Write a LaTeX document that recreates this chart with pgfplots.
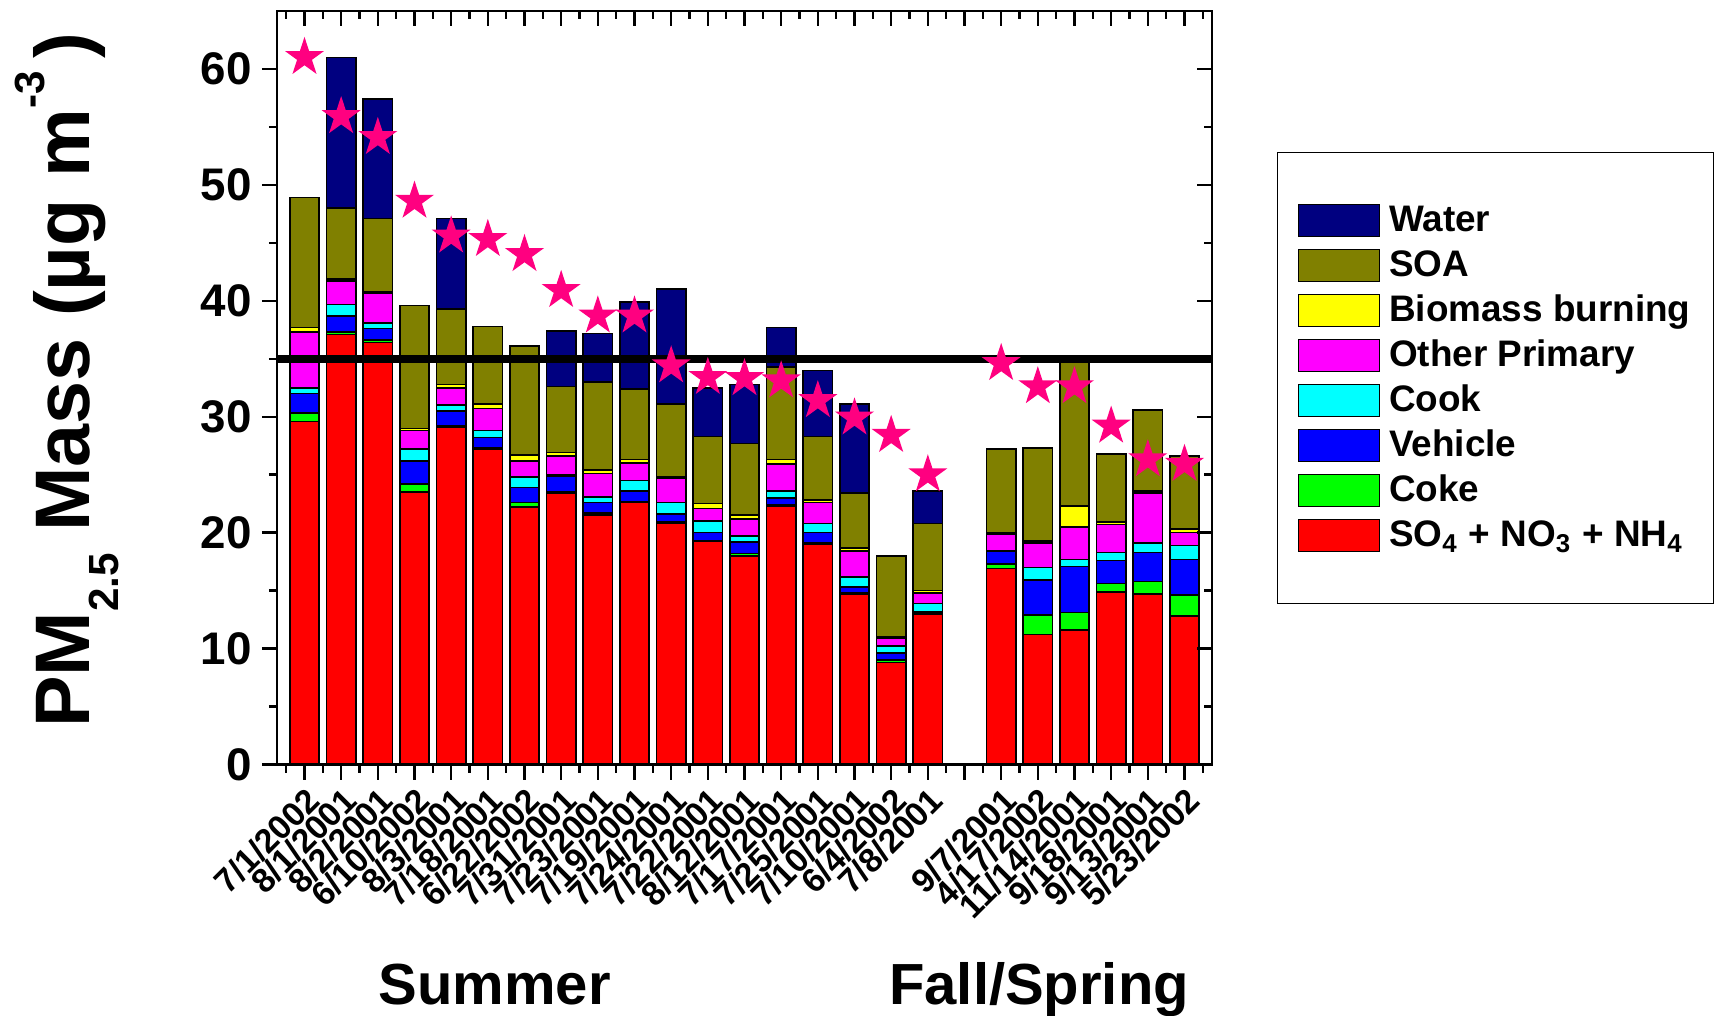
\documentclass[border=0pt]{standalone}
\usepackage{pgfplots}
\pgfplotsset{compat=1.18}
\usepackage{pgfplotstable}
\usepackage{fontspec}
\setmainfont{Liberation Sans}

\definecolor{cwater}{RGB}{0,0,128}
\definecolor{csoa}{RGB}{128,128,0}
\definecolor{cbio}{RGB}{255,255,0}
\definecolor{cother}{RGB}{255,0,255}
\definecolor{ccook}{RGB}{0,255,255}
\definecolor{cveh}{RGB}{0,0,255}
\definecolor{ccoke}{RGB}{0,255,0}
\definecolor{cso}{RGB}{255,0,0}
\definecolor{cstar}{RGB}{255,0,128}

\pgfdeclareplotmark{fstar}{%
\pgfpathmoveto{\pgfpointpolar{90}{\pgfplotmarksize}}%
\pgfpathlineto{\pgfpointpolar{126}{0.382\pgfplotmarksize}}%
\pgfpathlineto{\pgfpointpolar{162}{\pgfplotmarksize}}%
\pgfpathlineto{\pgfpointpolar{198}{0.382\pgfplotmarksize}}%
\pgfpathlineto{\pgfpointpolar{234}{\pgfplotmarksize}}%
\pgfpathlineto{\pgfpointpolar{270}{0.382\pgfplotmarksize}}%
\pgfpathlineto{\pgfpointpolar{306}{\pgfplotmarksize}}%
\pgfpathlineto{\pgfpointpolar{342}{0.382\pgfplotmarksize}}%
\pgfpathlineto{\pgfpointpolar{18}{\pgfplotmarksize}}%
\pgfpathlineto{\pgfpointpolar{54}{0.382\pgfplotmarksize}}%
\pgfpathclose
\pgfusepathqfill}

\pgfplotstableread{
x  so4  coke veh  cook other bio  soa  water
0  29.6 0.7  1.7  0.5  4.8   0.4  11.2 0
1  37.1 0.2  1.4  1.0  2.0   0.2  6.1  13.0
2  36.4 0.2  1.0  0.5  2.6   0.1  6.3  10.3
3  23.5 0.7  2.0  1.0  1.6   0.2  10.6 0
4  29.1 0.1  1.3  0.5  1.5   0.3  6.5  7.8
5  27.2 0.1  0.9  0.6  1.9   0.4  6.7  0
6  22.2 0.4  1.3  0.9  1.4   0.5  9.4  0
7  23.4 0.1  1.4  0.1  1.6   0.3  5.7  4.8
8  21.5 0.2  0.9  0.5  2.0   0.3  7.6  4.2
9  22.6 0.1  0.9  0.9  1.5   0.3  6.1  7.5
10 20.8 0.1  0.7  1.0  2.1   0.1  6.3  9.9
11 19.3 0.0  0.7  1.0  1.1   0.4  5.8  4.2
12 18.0 0.2  1.0  0.5  1.5   0.3  6.2  5.1
13 22.3 0.1  0.6  0.6  2.3   0.4  8.0  3.4
14 19.0 0.1  0.9  0.8  1.8   0.2  5.5  5.7
15 14.7 0.1  0.5  0.9  2.2   0.3  4.7  7.7
16 8.8  0.2  0.6  0.6  0.7   0.1  7.0  0
17 13.0 0.05 0.15 0.7  0.9   0.2  5.8  2.8
19 16.9 0.4  1.1  0.0  1.5   0.1  7.2  0
20 11.2 1.7  3.0  1.1  2.1   0.2  8.0  0
21 11.6 1.5  4.0  0.6  2.8   1.8  12.5 0
22 14.9 0.7  2.0  0.7  2.4   0.2  5.9  0
23 14.7 1.1  2.5  0.8  4.3   0.2  7.0  0
24 12.8 1.8  3.1  1.2  1.1   0.3  6.3  0
}\datatab

\pgfplotstableread{
x  star
0  61.0
1  55.9
2  54.1
3  48.6
4  45.6
5  45.3
6  44.0
7  40.9
8  38.7
9  38.7
10 34.4
11 33.4
12 33.3
13 33.1
14 31.4
15 29.9
16 28.4
17 25.0
19 34.6
20 32.6
21 32.6
22 29.2
23 26.3
24 25.9
}\startab

\pgfplotsset{
  common/.style={
    scale only axis, width=93.5mm, height=75.35mm,
    xmin=-0.75, xmax=24.75, ymin=0, ymax=65,
    xtick={0,...,24}, minor xtick={-0.5,0.5,...,24.5},
    ytick={0,10,...,60}, minor ytick={5,15,...,55},
    major tick length=1.5mm, minor tick length=0.8mm,
    axis line style={line width=0.7pt},
    tick style={line width=0.7pt, black},
  },
  mylegend/.style={legend image code/.code={\draw[##1, line width=0.4pt] (0mm,-1.6mm) rectangle (8.1mm,1.6mm);}},
}

\begin{document}
\begin{tikzpicture}
\useasboundingbox (-27.7mm,-25.05mm) rectangle (143.8mm,76.45mm);
\begin{axis}[common,
  ybar stacked, bar width=0.8,
  tick align=outside, xtick pos=left, ytick pos=left,
  xticklabels={7/1/2002,8/1/2001,8/2/2001,6/10/2002,8/3/2001,7/18/2001,6/22/2002,7/31/2001,7/23/2001,7/19/2001,7/24/2001,7/22/2001,8/12/2001,7/17/2001,7/25/2001,7/10/2001,6/4/2002,7/8/2001,{},9/7/2001,4/17/2002,11/14/2001,9/18/2001,9/13/2001,5/23/2002},
  xticklabel style={rotate=45, anchor=north east, font=\fontsize{9.6}{9.6}\selectfont\bfseries, inner sep=1pt},
  yticklabel style={font=\fontsize{13}{13}\selectfont\bfseries, inner sep=2.8pt},
  /pgf/number format/assume math mode=true,
  ylabel={PM\raisebox{-8pt}{\fontsize{12}{12}\selectfont 2.5} Mass (µg m\raisebox{13pt}{\fontsize{12}{12}\selectfont -3}\,)},
  ylabel style={at={(axis description cs:-0.2,0.51)}, anchor=base, font=\fontsize{22}{22}\selectfont\bfseries},
  reverse legend,
  legend cell align=left,
  legend style={at={(1.0695,0.8129)}, anchor=north west, draw=black, line width=0.4pt, fill=white,
    inner xsep=2mm, inner ysep=4.6mm, row sep=0.1mm,
    font=\fontsize{10.5}{12}\selectfont\bfseries,
    nodes={inner sep=0.3mm, text height=3.0mm, text depth=0.8mm},
    /tikz/every odd column/.append style={column sep=0.6mm}},
]
\addplot[fill=cso, draw=black, line width=0.45pt, mylegend] table[x=x,y=so4]{\datatab};
\addlegendentry{SO\textsubscript{4} + NO\textsubscript{3} + NH\textsubscript{4}}
\addplot[fill=ccoke, draw=black, line width=0.45pt, mylegend] table[x=x,y=coke]{\datatab};
\addlegendentry{Coke}
\addplot[fill=cveh, draw=black, line width=0.45pt, mylegend] table[x=x,y=veh]{\datatab};
\addlegendentry{Vehicle}
\addplot[fill=ccook, draw=black, line width=0.45pt, mylegend] table[x=x,y=cook]{\datatab};
\addlegendentry{Cook}
\addplot[fill=cother, draw=black, line width=0.45pt, mylegend] table[x=x,y=other]{\datatab};
\addlegendentry{Other Primary}
\addplot[fill=cbio, draw=black, line width=0.45pt, mylegend] table[x=x,y=bio]{\datatab};
\addlegendentry{Biomass burning}
\addplot[fill=csoa, draw=black, line width=0.45pt, mylegend] table[x=x,y=soa]{\datatab};
\addlegendentry{SOA}
\addplot[fill=cwater, draw=black, line width=0.45pt, mylegend] table[x=x,y=water]{\datatab};
\addlegendentry{Water}
\end{axis}
\begin{axis}[common,
  tick align=inside, xtick pos=right, ytick pos=right,
  xticklabels={}, yticklabels={}, clip=false,
]
\addplot[black, line width=2.2pt] coordinates {(-0.75,35) (24.75,35)};
\addplot[only marks, mark=fstar, mark size=2.05mm, color=cstar] table[x=x,y=star]{\startab};
\node[anchor=base, font=\fontsize{16.5}{16.5}\selectfont\bfseries] at (axis description cs:0.2328,-0.318) {Summer};
\node[anchor=base, font=\fontsize{16.5}{16.5}\selectfont\bfseries] at (axis description cs:0.815,-0.318) {Fall/Spring};
\end{axis}
\end{tikzpicture}
\end{document}
